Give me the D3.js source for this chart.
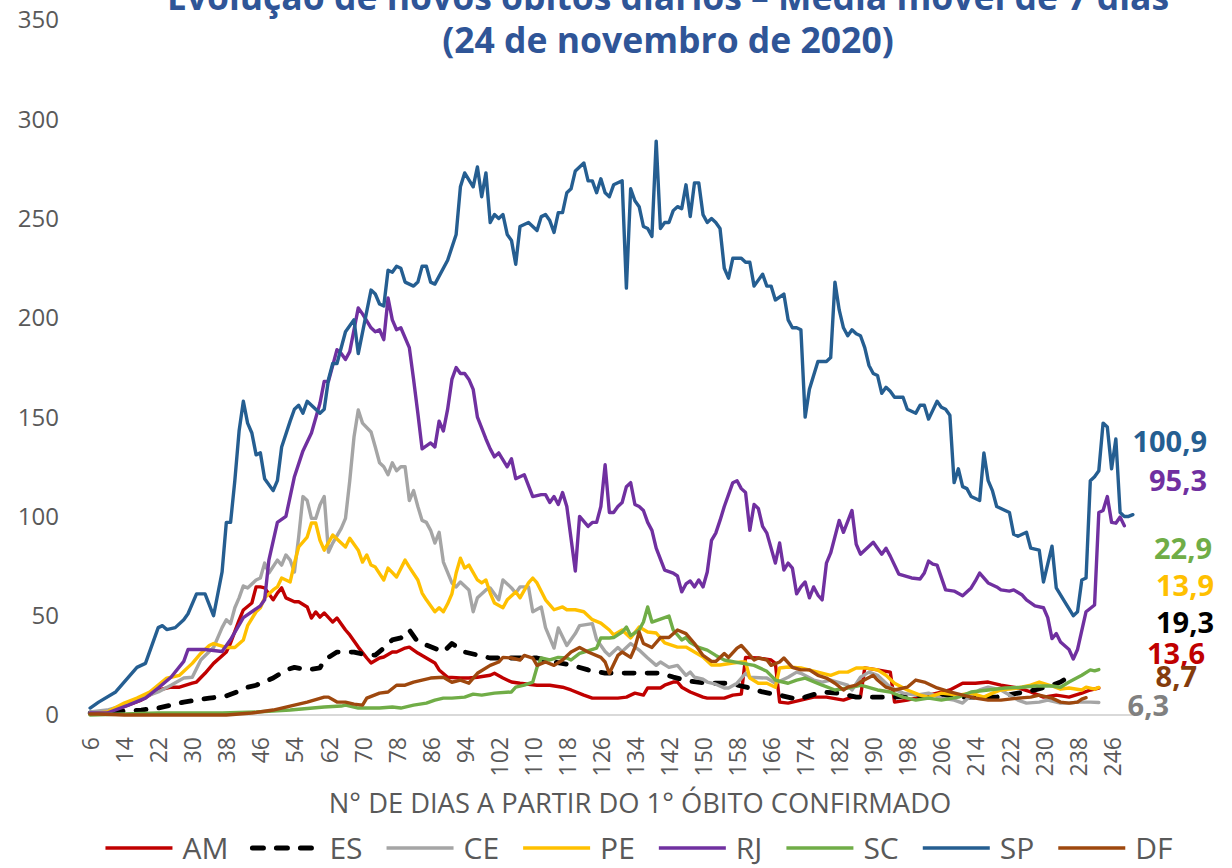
<!DOCTYPE html>
<meta charset="utf-8">
<style>
body { margin: 0; background: #fff; }
text { font-family: "Open Sans", "Noto Sans", sans-serif; }
.ytick-label { fill: #595959; font-size: 24px; }
.xtick-label { fill: #595959; font-size: 23px; }
.axis-title { fill: #595959; font-size: 27.3px; }
.legend-label { fill: #595959; font-size: 30px; }
.title { fill: #2F5597; font-size: 35.5px; font-weight: bold; }
.end-label { font-size: 29px; font-weight: bold; }
.series { fill: none; stroke-linejoin: round; stroke-linecap: round; }
</style>
<svg width="1232" height="868"></svg>
<script src="https://cdn.jsdelivr.net/npm/d3@7"></script>
<script>

const width = 1232;
const height = 868;

// [day since 1st death, 7-day moving average of deaths]
const amData = [[6,0.5],[10,1],[18,7.5],[22,12.6],[25,14],[27,14],[30,16],[31,16.6],[33,21],[35,26],[38,31.7],[39,36.3],[41,47.8],[42,52.9],[44,56.4],[45,64.5],[46,64.5],[47,64],[49,58],[50,61.4],[51,64],[52,59],[54,57],[55,57],[57,54.4],[58,48.8],[59,51.9],[60,49.3],[61,51.4],[63,46.8],[64,48.8],[66,42.8],[67,40.3],[69,34.2],[71,28.7],[72,26.2],[74,28.7],[75,29.2],[77,31.7],[78,31.7],[80,33.7],[81,34.2],[83,31.2],[85,28.7],[87,26.2],[88,22.7],[90,19],[93,18.6],[95,18.6],[97,19],[100,20],[101,21],[103,18.6],[105,16.6],[107,16],[111,15],[114,15],[117,14],[119,12.6],[122,10],[124,8.5],[127,8.5],[130,8.5],[132,9],[134,11],[136,10],[137,13.6],[140,13.6],[141,15],[143,16.6],[144,16.6],[145,14],[147,11.6],[150,9],[151,8.5],[155,8.5],[157,10],[159,10.5],[160,29],[163,28.7],[166,27.7],[167,26],[168,6.5],[170,6],[173,7.5],[176,9],[179,9],[183,7.5],[185,9],[187,9],[188,23.7],[191,22.7],[194,21.6],[195,6.5],[198,7.5],[201,9],[205,11],[208,12.6],[211,16],[214,16],[217,16.6],[220,15],[224,13.6],[227,11.6],[230,9],[233,10],[236,9],[239,11],[241,12.6],[243,13.6]];

const esData = [[6,1],[14,2],[18,2.5],[22,3.5],[25,5],[28,6.5],[31,7.5],[34,8.5],[38,9.6],[41,12],[43,14],[45,15],[49,18.6],[52,22.7],[54,24],[57,22.7],[60,23.7],[61,27.7],[64,31.7],[66,31.7],[68,31.7],[71,30.2],[73,30.2],[75,33.7],[77,37.8],[79,38.8],[81,42.8],[83,36.8],[85,35.2],[88,32.7],[89,31.7],[91,36],[94,31.7],[97,30.2],[100,28.7],[104,28.7],[107,28.7],[111,28.7],[115,26.7],[119,25.2],[123,22.7],[127,21.1],[132,21.1],[135,21.1],[140,21.1],[143,19.1],[147,17],[151,16],[156,16],[161,13.6],[164,11.6],[168,10],[171,8.5],[173,8],[174,9],[178,11.6],[182,11],[186,9],[191,9],[195,9],[200,10],[205,9],[210,9],[214,9],[219,9],[224,11],[228,12.6],[232,15],[234,16.6],[236,19.3]];

const ceData = [[6,1.5],[10,2.5],[14,5],[18,8.5],[22,11.6],[25,15],[28,18.6],[30,19],[32,27.7],[34,32],[35,34],[37,44],[38,48],[39,46],[40,54],[41,59],[42,65],[43,64],[45,68],[46,69],[47,76.5],[48,71.5],[50,78],[51,75.5],[52,80.6],[53,78],[54,72],[55,89.6],[56,110],[57,108],[58,99],[59,99],[60,105.7],[61,110],[62,82],[63,86.6],[65,94],[66,99],[67,118],[68,140],[69,153.6],[70,147],[72,142.5],[73,135],[74,127],[75,125],[76,121],[77,127],[78,123],[79,125],[80,125],[81,108],[82,113],[83,105],[84,98],[85,97],[86,93],[87,86.6],[88,92],[89,77],[91,66.5],[92,64.5],[93,67],[95,63],[96,52],[97,59],[99,63],[100,64],[102,58],[103,68],[105,64],[106,61.4],[107,64.5],[109,64.5],[110,52],[112,54.4],[113,44],[115,33.7],[116,43.8],[118,35],[120,41],[121,45],[124,46],[125,38],[127,32],[128,30],[130,34],[131,32],[133,36],[135,32.7],[137,28.7],[139,25],[140,26.7],[142,24],[144,25],[146,20],[147,21.6],[148,19],[150,18],[151,16.6],[153,15.5],[155,13.6],[156,13.6],[158,16],[160,21],[161,19],[165,18.6],[167,16],[170,19],[172,21.6],[173,21],[176,17.6],[178,16.6],[180,17.6],[184,15],[185,12.6],[187,19],[189,21.6],[191,20],[194,14],[197,11],[200,10],[203,11],[206,8.5],[209,7.5],[211,6],[213,10],[215,12.6],[217,14],[220,12.6],[224,7.5],[226,6],[229,6.5],[231,7.5],[234,6],[236,6],[238,6.5],[241,6.5],[243,6.3]];

const peData = [[6,0.5],[10,1.5],[14,6],[17,8.5],[20,11.6],[24,18.6],[25,19],[27,20],[30,26],[32,31],[34,35],[35,36],[38,34],[40,34],[42,37.8],[43,45],[45,52],[46,54],[47,59],[49,63],[50,64.5],[51,69],[53,67],[54,76.5],[55,84.6],[57,89.6],[58,96.7],[59,96.7],[60,88],[61,83],[63,90.6],[65,86.6],[66,84.6],[67,89],[69,83],[70,77],[71,80.6],[72,75.5],[73,74.5],[75,68],[76,74],[78,69.5],[80,78],[81,74.5],[83,68],[84,61.4],[85,58],[87,52],[88,54],[89,52],[90,56],[91,61],[92,71.5],[93,79],[94,74],[95,75.5],[97,68],[98,66.5],[99,68],[100,61.4],[101,56.4],[103,54],[104,58],[106,62],[107,59],[109,66.5],[110,69],[111,66.5],[113,58],[115,53],[117,54.4],[118,53],[120,53],[122,52],[124,48],[126,46.3],[128,42.8],[129,40.3],[131,42.8],[133,38.8],[135,44.3],[137,41.8],[139,41.3],[141,36.3],[144,34.2],[146,34.2],[148,31.7],[150,29.2],[152,25.2],[154,25.2],[157,26.2],[159,26.7],[160,26.7],[161,18.6],[163,16],[165,16],[167,14],[168,23.7],[170,24.2],[173,23.7],[177,21.6],[180,20],[182,21.6],[184,21.6],[186,23.7],[188,23.7],[191,22.7],[193,20],[195,16],[198,12.6],[201,10],[203,9],[206,11],[210,10],[213,11],[216,9],[218,11],[220,12.6],[224,13.6],[227,15],[229,16.6],[232,14.6],[234,13],[236,13.6],[239,12.6],[240,14],[242,13],[243,13.9]];

const rjData = [[6,1],[10,1],[15,5],[19,8.5],[22,13.6],[25,19],[28,27],[29,33],[33,33],[37,32],[39,38],[42,49],[46,55],[47,58],[48,78],[50,97],[52,100],[54,120],[56,133],[58,142],[60,157],[61,168],[62,168],[64,184],[65,182],[66,179],[67,183],[68,194],[69,205],[70,202],[72,195],[73,193],[74,194],[75,189],[76,210],[77,199],[78,194],[79,195],[81,185],[82,169],[83,152],[84,134],[86,137],[87,135],[88,148],[89,143],[90,154],[91,169],[92,175],[93,172],[94,172],[95,169],[96,164],[97,150],[99,139],[100,134],[101,130],[102,132],[104,125],[105,129],[106,119],[108,121],[110,110],[112,111],[113,111],[114,107],[115,110],[116,106],[117,112],[118,105],[120,72.5],[121,100],[123,95],[124,97],[125,97],[126,105],[127,126],[128,102],[129,102],[130,105],[131,107],[132,115],[133,117],[134,106],[135,105],[136,103],[137,97],[138,93],[139,84],[141,73],[143,71.5],[144,70],[145,62],[146,66],[147,67.5],[148,64.5],[149,68],[150,64.5],[151,72],[152,88],[153,91.6],[154,98],[155,105],[157,117],[158,118],[159,114],[160,112],[161,93],[162,106],[163,104],[164,95],[165,91.6],[167,76.5],[168,86.6],[169,73],[170,76.5],[171,74],[172,61],[173,64.5],[174,67],[175,59],[176,64.5],[177,60.4],[178,58],[179,76.5],[180,81.6],[182,98],[183,92],[185,103],[186,86],[187,81],[190,87],[192,81],[193,84],[194,80],[196,71],[199,69],[201,68.5],[202,71.5],[203,77.5],[204,76],[205,75.5],[207,63],[209,62.4],[211,60],[213,64],[214,67.5],[215,71.5],[217,66.5],[219,64.5],[220,63],[222,62.4],[223,63],[225,60.4],[226,58],[228,55],[230,54],[231,49],[232,38.5],[233,41],[234,36.8],[236,33],[237,28.2],[238,33],[240,52],[242,55.4],[243,102],[244,103],[245,110],[246,97],[247,96.6],[248,99.7],[249,95.3]];

const scData = [[6,0],[22,1],[37,1],[45,1.5],[53,2.5],[61,4],[65,4.5],[66,5],[69,3.5],[74,3.5],[77,4],[79,3.5],[82,5],[85,6],[87,7.5],[89,8.5],[91,8.5],[94,9],[96,10.5],[98,10],[101,11],[105,11.6],[106,14],[108,15],[110,16.6],[111,24],[112,28.7],[114,27.7],[116,29],[118,28.7],[119,27.7],[121,31],[122,31.7],[125,33.7],[126,38.8],[128,38.8],[129,39],[131,41.8],[132,44.3],[133,40],[135,42.8],[136,46.8],[137,54.4],[138,46.8],[140,48.3],[142,49.8],[143,42.8],[145,37.8],[146,39],[147,36.5],[149,34],[151,32.7],[153,30],[155,27.7],[158,26.5],[162,25],[165,22],[167,17.6],[168,17],[170,16],[172,17.6],[174,18.6],[178,15],[181,12.6],[184,13.6],[187,15],[191,12.6],[194,11.6],[197,9],[200,7.5],[203,8.5],[206,7.5],[210,9],[213,11.6],[217,12.6],[221,13.6],[225,14],[228,14.6],[232,14.6],[234,14],[236,16.6],[239,20],[241,22.7],[242,22.2],[243,22.9]];

const spData = [[6,3.5],[8,6.5],[12,11.6],[17,24],[19,26],[22,44],[23,45],[24,43],[26,44],[28,48],[29,51],[31,61],[33,61],[35,50],[37,72],[38,97],[39,97],[40,118],[41,143],[42,158],[43,147],[44,142],[45,131],[46,132],[47,119],[49,113],[50,118],[51,135],[53,148],[54,154],[55,156],[56,152],[57,158],[59,154],[60,152],[61,154],[62,169],[63,177],[64,177],[66,193],[68,199],[69,182],[72,214],[73,212],[74,207],[75,206],[76,224],[77,223],[78,226],[79,225],[80,218],[82,216],[83,218],[84,226],[85,226],[86,218],[87,217],[90,229],[92,242],[93,266],[94,273],[96,266],[97,276],[98,261],[99,273],[100,248],[101,252],[102,250],[103,252],[104,242],[105,239],[106,227],[107,246],[108,247],[109,248],[111,244],[112,251],[113,252],[114,249],[115,243],[116,253],[117,253],[118,263],[119,265],[120,274],[121,276],[122,278],[123,269],[124,269],[125,263],[126,270],[127,263],[128,261],[129,267],[130,268],[131,269],[132,215],[133,265],[134,259],[135,256],[136,246],[137,245],[138,241],[139,289],[140,245],[141,248],[142,248],[143,254],[144,256],[145,255],[146,267],[147,251],[148,268],[149,268],[150,252],[151,248],[152,250],[153,248],[154,245],[155,225],[156,220],[157,230],[159,230],[160,228],[161,228],[162,216],[163,219],[164,222],[165,216],[166,216],[167,209],[169,212],[170,199],[171,195],[172,195],[173,194],[174,150],[175,164],[177,178],[179,178],[180,180],[181,218],[182,204],[183,195],[184,191],[185,194],[186,192],[187,191],[188,185],[189,176],[190,172],[191,171],[192,162],[193,165],[194,163],[195,160],[197,160],[198,154],[200,152],[201,156],[202,156],[203,149],[205,158],[206,155],[207,154],[208,151],[209,117],[210,124],[211,115],[212,114],[213,110],[215,108],[216,132],[217,118],[218,113],[219,105],[221,103],[222,102],[223,91],[224,90],[226,92],[227,84],[229,83],[230,67],[232,85],[233,64],[235,57],[237,50],[238,52],[239,68],[240,69],[241,118],[242,120],[243,123],[244,147],[245,145],[246,124],[247,139],[248,102],[249,100],[250,100],[251,100.9]];

const dfData = [[6,0.5],[8,0.5],[14,0],[22,0],[30,0],[38,0],[44,1],[49,2.5],[53,4.5],[57,6.5],[61,9],[62,9],[64,6.5],[66,6.5],[68,5.5],[70,5],[71,8.5],[74,11],[76,11.6],[78,15],[80,15],[82,16.6],[84,17.6],[86,18.6],[89,19],[91,16.5],[93,17.6],[95,16],[97,21],[100,25],[102,26.7],[103,29],[105,28.7],[107,27.7],[108,30],[110,28.7],[111,25],[113,26.7],[115,25],[117,27.7],[119,31.7],[121,34],[123,31.7],[126,29],[127,26.7],[128,21],[130,30],[131,31.7],[133,29],[134,34],[135,41.8],[136,36],[138,34],[140,39],[142,39],[144,42.8],[146,41],[148,36],[150,30],[152,27],[153,27],[155,31],[156,29],[158,33.7],[159,35],[160,32.7],[162,27.7],[163,28.7],[165,27.7],[166,25],[168,26.7],[169,28.7],[171,24],[173,22.7],[175,22.7],[177,20],[179,18.6],[181,16],[183,12.6],[184,14],[186,15],[187,16.6],[190,20],[191,17.6],[193,14],[195,12.6],[198,14],[200,17.6],[202,16.6],[205,13.6],[208,11.6],[211,10],[214,8.5],[217,7.5],[220,7.5],[224,8.5],[227,9],[229,10],[232,8.5],[234,6.5],[236,6],[238,6.5],[239,8],[240,8.7]];

const seriesNames = ["AM", "ES", "CE", "PE", "RJ", "SC", "SP", "DF"];
const seriesData = [amData, esData, ceData, peData, rjData, scData, spData, dfData];
const seriesColors = ["#C00000", "#000000", "#A5A5A5", "#FFC000", "#7030A0", "#70AD47", "#255E91", "#9E480E"];

// last values printed at the right edge
const endLabels = ["13,6", "19,3", "6,3", "13,9", "95,3", "22,9", "100,9", "8,7"];
const endLabelColors = ["#C00000", "#000000", "#808080", "#FFC000", "#7030A0", "#70AD47", "#255E91", "#843C0C"];
// label placement: [x of right edge, value level of label centre]
const endLabelPos = [[1205, 30.7], [1214, 46.3], [1169, 4.5], [1214, 65], [1207, 118], [1212, 83.6], [1207, 137.5], [1197, 19]];

const xTicks = d3.range(6, 247, 8);
const yTicks = d3.range(0, 351, 50);

const titleLines = ["Evolução de novos óbitos diários – Média móvel de 7 dias", "(24 de novembro de 2020)"];
const xTitle = "N° DE DIAS A PARTIR DO 1° ÓBITO CONFIRMADO";

const plot = {left: 88, right: 1135, top: 20, bottom: 715};

const svg = d3.select("svg");

const x = d3.scaleLinear().domain([5.5, 251.5]).range([plot.left, plot.right]);
const y = d3.scaleLinear().domain([0, 350]).range([plot.bottom, plot.top]);

// title (top line is clipped by the page edge, as in the source)
svg.selectAll(".title")
  .data(titleLines)
  .enter().append("text")
  .attr("class", "title")
  .attr("x", 668)
  .attr("y", (d, i) => 10 + i * 43)
  .attr("text-anchor", "middle")
  .text(d => d);

// y tick labels
svg.selectAll(".ytick")
  .data(yTicks)
  .enter().append("text")
  .attr("class", "ytick-label")
  .attr("x", 59)
  .attr("y", d => y(d))
  .attr("dy", "0.35em")
  .attr("text-anchor", "end")
  .text(d => d);

// baseline
svg.append("line")
  .attr("x1", plot.left).attr("x2", plot.right)
  .attr("y1", y(0)).attr("y2", y(0))
  .attr("stroke", "#D9D9D9")
  .attr("stroke-width", 2);

// x tick labels, rotated
svg.selectAll(".xtick")
  .data(xTicks)
  .enter().append("text")
  .attr("class", "xtick-label")
  .attr("text-anchor", "end")
  .attr("dy", "0.35em")
  .attr("transform", d => "translate(" + (x(d) + 1) + "," + 737 + ") rotate(-90)")
  .text(d => d);

// lines
const line = d3.line()
  .x(d => x(d[0]))
  .y(d => y(d[1]));

svg.selectAll(".series")
  .data(seriesData)
  .enter().append("path")
  .attr("class", "series")
  .attr("d", line)
  .style("stroke", (d, i) => seriesColors[i])
  .style("stroke-width", (d, i) => seriesNames[i] === "ES" ? 4.8 : 3.4)
  .style("stroke-dasharray", (d, i) => seriesNames[i] === "ES" ? "10,13" : null);

// end labels
svg.selectAll(".end-label")
  .data(endLabels)
  .enter().append("text")
  .attr("class", "end-label")
  .attr("x", (d, i) => endLabelPos[i][0])
  .attr("y", (d, i) => y(endLabelPos[i][1]))
  .attr("dy", "0.35em")
  .attr("text-anchor", "end")
  .style("fill", (d, i) => endLabelColors[i])
  .text(d => d);

// x axis title
svg.append("text")
  .attr("class", "axis-title")
  .attr("x", 640)
  .attr("y", 803)
  .attr("dy", "0.35em")
  .attr("text-anchor", "middle")
  .text(xTitle);

// legend
const legend = svg.append("g");
const lineLen = 67;
let cursor = 0;
seriesNames.forEach((name, i) => {
  const g = legend.append("g").attr("transform", "translate(" + cursor + ",0)");
  g.append("line")
    .attr("x1", 0).attr("x2", lineLen)
    .attr("y1", 0).attr("y2", 0)
    .attr("stroke", seriesColors[i])
    .attr("stroke-width", name === "ES" ? 5 : 3.5)
    .attr("stroke-linecap", name === "ES" ? "round" : "butt")
    .attr("stroke-dasharray", name === "ES" ? "11,13" : null);
  const t = g.append("text")
    .attr("class", "legend-label")
    .attr("x", lineLen + 10)
    .attr("dy", "0.35em")
    .text(name);
  cursor += lineLen + 10 + t.node().getComputedTextLength() + 24;
});
cursor -= 24;
legend.attr("transform", "translate(" + (639 - cursor / 2) + "," + 848 + ")");

</script>
